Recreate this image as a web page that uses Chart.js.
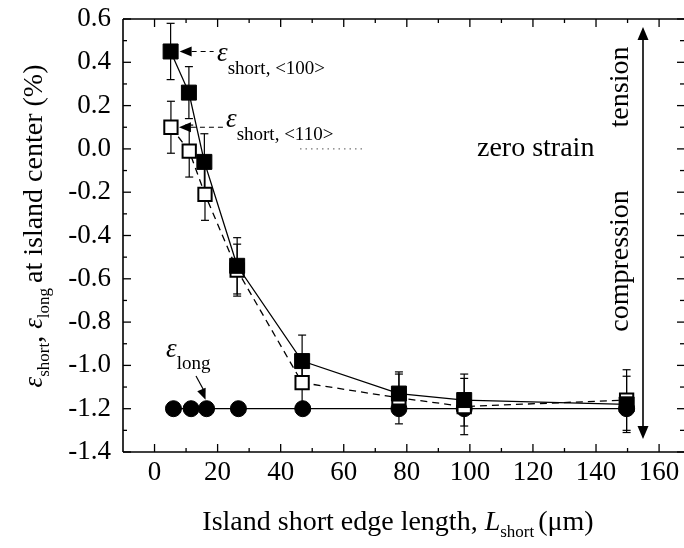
<!DOCTYPE html>
<html>
<head>
<meta charset="utf-8">
<script src="https://cdn.jsdelivr.net/npm/chart.js@4.4.1/dist/chart.umd.min.js"></script>
<style>
  html, body { margin: 0; padding: 0; background: #fff; overflow: hidden; }
  canvas { display: block; }
</style>
</head>
<body>
<canvas id="c" width="684" height="548"></canvas>
<script>
// Tick values for the two axes
const xTickValues = [0, 20, 40, 60, 80, 100, 120, 140, 160];
const yTickValues = [-1.4, -1.2, -1.0, -0.8, -0.6, -0.4, -0.2, 0.0, 0.2, 0.4, 0.6];

// Short-edge strain along <100> (filled squares)
const lengthShort100 = [5.1, 10.9, 15.8, 26.2, 46.8, 77.5, 98.2, 149.7];
const strainShort100 = [0.45, 0.26, -0.06, -0.54, -0.98, -1.13, -1.16, -1.18];
const errShort100 = [0.13, 0.12, 0.13, 0.13, 0.12, 0.09, 0.12, 0.13];

// Short-edge strain along <110> (open squares)
const lengthShort110 = [5.2, 11.0, 16.0, 26.2, 46.8, 77.5, 98.2, 149.7];
const strainShort110 = [0.10, -0.01, -0.21, -0.56, -1.08, -1.15, -1.19, -1.16];
const errShort110 = [0.12, 0.12, 0.12, 0.12, 0.12, 0.12, 0.13, 0.14];

// Long-edge strain (filled circles)
const lengthLong = [6.0, 11.6, 16.5, 26.6, 47.0, 77.5, 98.2, 149.7];
const strainLong = [-1.2, -1.2, -1.2, -1.2, -1.2, -1.2, -1.2, -1.2];

const SERIF = '"Liberation Serif", "Times New Roman", serif';
const INK = '#000';

function toPoints(xs, ys) { return xs.map((x, i) => ({ x, y: ys[i] })); }

function line(ctx, x1, y1, x2, y2) {
  ctx.beginPath(); ctx.moveTo(x1, y1); ctx.lineTo(x2, y2); ctx.stroke();
}

function arrowHead(ctx, tx, ty, angle, len, half) {
  ctx.save();
  ctx.translate(tx, ty);
  ctx.rotate(angle);
  ctx.beginPath();
  ctx.moveTo(0, 0);
  ctx.lineTo(-len, -half);
  ctx.lineTo(-len, half);
  ctx.closePath();
  ctx.fill();
  ctx.restore();
}

// Draws a run of text pieces (main text, italic symbols, subscripts) on one baseline
function richText(ctx, parts, x, y, rotate, align) {
  ctx.save();
  ctx.translate(x, y);
  if (rotate) ctx.rotate(rotate);
  ctx.textBaseline = 'alphabetic';
  ctx.textAlign = 'left';
  let total = 0;
  parts.forEach(p => { ctx.font = p.font; total += ctx.measureText(p.text).width + (p.gap || 0); });
  let cx = align === 'center' ? -total / 2 : 0;
  parts.forEach(p => {
    ctx.font = p.font;
    ctx.fillText(p.text, cx, p.dy || 0);
    cx += ctx.measureText(p.text).width + (p.gap || 0);
  });
  ctx.restore();
}

const errorBars = {
  id: 'errorBars',
  beforeDatasetsDraw(chart) {
    const ctx = chart.ctx, xs = chart.scales.x, ys = chart.scales.y;
    const sets = [
      [lengthShort100, strainShort100, errShort100],
      [lengthShort110, strainShort110, errShort110]
    ];
    ctx.save();
    ctx.strokeStyle = INK;
    ctx.lineWidth = 1.2;
    sets.forEach(([lx, sy, er]) => {
      lx.forEach((v, i) => {
        const px = xs.getPixelForValue(v);
        const top = ys.getPixelForValue(sy[i] + er[i]);
        const bot = ys.getPixelForValue(sy[i] - er[i]);
        line(ctx, px, top, px, bot);
        line(ctx, px - 4, top, px + 4, top);
        line(ctx, px - 4, bot, px + 4, bot);
      });
    });
    ctx.restore();
  }
};

const frameAndNotes = {
  id: 'frameAndNotes',
  afterDraw(chart) {
    const ctx = chart.ctx, xs = chart.scales.x, ys = chart.scales.y, a = chart.chartArea;
    ctx.save();
    ctx.strokeStyle = INK;
    ctx.fillStyle = INK;

    // frame (the right spine sits at the canvas edge)
    ctx.lineWidth = 1.6;
    line(ctx, a.left, a.top, a.right, a.top);
    line(ctx, a.left, a.top, a.left, a.bottom);
    line(ctx, a.left, a.bottom, a.right, a.bottom);

    // inward ticks, major and minor, mirrored on top/right
    ctx.lineWidth = 1.3;
    xTickValues.forEach(v => {
      const p = xs.getPixelForValue(v);
      line(ctx, p, a.bottom, p, a.bottom - 8);
      line(ctx, p, a.top, p, a.top + 8);
    });
    xTickValues.map(v => v + 10).filter(v => v < xs.max).forEach(v => {
      const p = xs.getPixelForValue(v);
      line(ctx, p, a.bottom, p, a.bottom - 4);
      line(ctx, p, a.top, p, a.top + 4);
    });
    yTickValues.forEach(v => {
      const p = ys.getPixelForValue(v);
      line(ctx, a.left, p, a.left + 8, p);
      line(ctx, a.right, p, a.right - 7, p);
    });
    yTickValues.slice(1).map(v => v - 0.1).forEach(v => {
      const p = ys.getPixelForValue(v);
      line(ctx, a.left, p, a.left + 4, p);
      line(ctx, a.right, p, a.right - 4, p);
    });

    const big = '28px ' + SERIF;
    const eps = 'italic 27px ' + SERIF;
    const sub = '19px ' + SERIF;

    // pointer to the first <100> value
    const p100x = xs.getPixelForValue(lengthShort100[0]) + 9;
    const p100y = ys.getPixelForValue(strainShort100[0]);
    arrowHead(ctx, p100x, p100y, Math.PI, 12, 5);
    ctx.lineWidth = 1.2;
    ctx.setLineDash([5, 4]);
    line(ctx, p100x + 12, p100y, p100x + 34, p100y);
    ctx.setLineDash([]);
    richText(ctx, [
      { text: 'ε', font: eps, dy: 0, gap: 0 },
      { text: 'short, <100>', font: sub, dy: 13 }
    ], 217, p100y + 10, 0);

    // pointer to the first <110> value
    const p110x = xs.getPixelForValue(lengthShort110[0]) + 8;
    const p110y = ys.getPixelForValue(strainShort110[0]);
    arrowHead(ctx, p110x, p110y, Math.PI, 12, 5);
    ctx.setLineDash([5, 4]);
    line(ctx, p110x + 12, p110y, p110x + 44, p110y);
    ctx.setLineDash([]);
    richText(ctx, [
      { text: 'ε', font: eps, dy: 0 },
      { text: 'short, <110>', font: sub, dy: 13 }
    ], 226, p110y, 0);

    // faint zero-strain marker
    const z = ys.getPixelForValue(0);
    ctx.lineWidth = 1;
    ctx.setLineDash([1.5, 4]);
    ctx.strokeStyle = '#555';
    line(ctx, 300, z, 362, z);
    ctx.setLineDash([]);
    ctx.strokeStyle = INK;

    ctx.font = big;
    ctx.textAlign = 'left';
    ctx.textBaseline = 'alphabetic';
    ctx.fillText('zero strain', 477, 156);

    // long-edge label with its pointer
    richText(ctx, [
      { text: 'ε', font: eps, dy: 0 },
      { text: 'long', font: sub, dy: 12 }
    ], 166, 357, 0);
    const lx = xs.getPixelForValue(lengthLong[2]) - 1;
    const ly = ys.getPixelForValue(strainLong[2]) - 9;
    ctx.lineWidth = 1.2;
    line(ctx, 196, 376, lx - 1, ly - 8);
    arrowHead(ctx, lx, ly, Math.atan2(ly - 376, lx - 196), 11, 4.5);

    // tension / compression double arrow
    const ax = 643;
    ctx.lineWidth = 1.6;
    line(ctx, ax, 38, ax, 428);
    arrowHead(ctx, ax, 27, -Math.PI / 2, 13, 5.5);
    arrowHead(ctx, ax, 439, Math.PI / 2, 13, 5.5);
    richText(ctx, [{ text: 'tension', font: big }], 628, 87, -Math.PI / 2, 'center');
    richText(ctx, [{ text: 'compression', font: big }], 628, 261, -Math.PI / 2, 'center');

    // axis titles
    richText(ctx, [
      { text: 'Island short edge length, ', font: big },
      { text: 'L', font: 'italic 28px ' + SERIF },
      { text: 'short', font: '17px ' + SERIF, dy: 7, gap: 4 },
      { text: '(μm)', font: big }
    ], 398, 530, 0, 'center');
    richText(ctx, [
      { text: 'ε', font: eps },
      { text: 'short', font: '17px ' + SERIF, dy: 7 },
      { text: ', ', font: big },
      { text: 'ε', font: eps },
      { text: 'long', font: '17px ' + SERIF, dy: 7, gap: 5 },
      { text: 'at island center (%)', font: big }
    ], 42, 226, -Math.PI / 2, 'center');

    ctx.restore();
  }
};

new Chart(document.getElementById('c'), {
  type: 'scatter',
  data: {
    datasets: [
      {
        label: 'ε short <100>',
        data: toPoints(lengthShort100, strainShort100),
        showLine: true,
        borderColor: INK,
        borderWidth: 1.3,
        pointStyle: 'rect',
        pointRadius: 10.6,
        pointBackgroundColor: INK,
        pointBorderColor: INK,
        pointBorderWidth: 1
      },
      {
        label: 'ε short <110>',
        data: toPoints(lengthShort110, strainShort110),
        showLine: true,
        borderColor: INK,
        borderWidth: 1.3,
        borderDash: [7, 5],
        pointStyle: 'rect',
        pointRadius: 9.4,
        pointBackgroundColor: '#fff',
        pointBorderColor: INK,
        pointBorderWidth: 2
      },
      {
        label: 'ε long',
        data: toPoints(lengthLong, strainLong),
        showLine: true,
        borderColor: INK,
        borderWidth: 1.3,
        pointStyle: 'circle',
        pointRadius: 8,
        pointBackgroundColor: INK,
        pointBorderColor: INK,
        pointBorderWidth: 1
      }
    ]
  },
  options: {
    responsive: false,
    animation: false,
    devicePixelRatio: 1,
    clip: false,
    layout: { autoPadding: false, padding: { top: 19, left: 0, right: 0, bottom: 0 } },
    elements: { line: { tension: 0 } },
    plugins: { legend: { display: false }, tooltip: { enabled: false } },
    scales: {
      x: {
        type: 'linear',
        min: -10,
        max: 167.9,
        afterBuildTicks: s => { s.ticks = xTickValues.map(v => ({ value: v })); },
        afterFit: s => { s.height = 96; s.paddingLeft = 0; s.paddingRight = 0; },
        grid: { display: false, drawTicks: false },
        border: { display: false },
        ticks: {
          color: INK,
          padding: 5,
          maxRotation: 0,
          font: { family: SERIF, size: 27 },
          callback: v => String(v)
        }
      },
      y: {
        type: 'linear',
        min: -1.4,
        max: 0.6,
        afterBuildTicks: s => { s.ticks = yTickValues.map(v => ({ value: v })); },
        afterFit: s => { s.width = 123; s.paddingTop = 0; s.paddingBottom = 0; },
        grid: { display: false, drawTicks: false },
        border: { display: false },
        ticks: {
          color: INK,
          padding: 12,
          font: { family: SERIF, size: 27 },
          callback: v => Number(v).toFixed(1)
        }
      }
    }
  },
  plugins: [errorBars, frameAndNotes]
});
</script>
</body>
</html>
